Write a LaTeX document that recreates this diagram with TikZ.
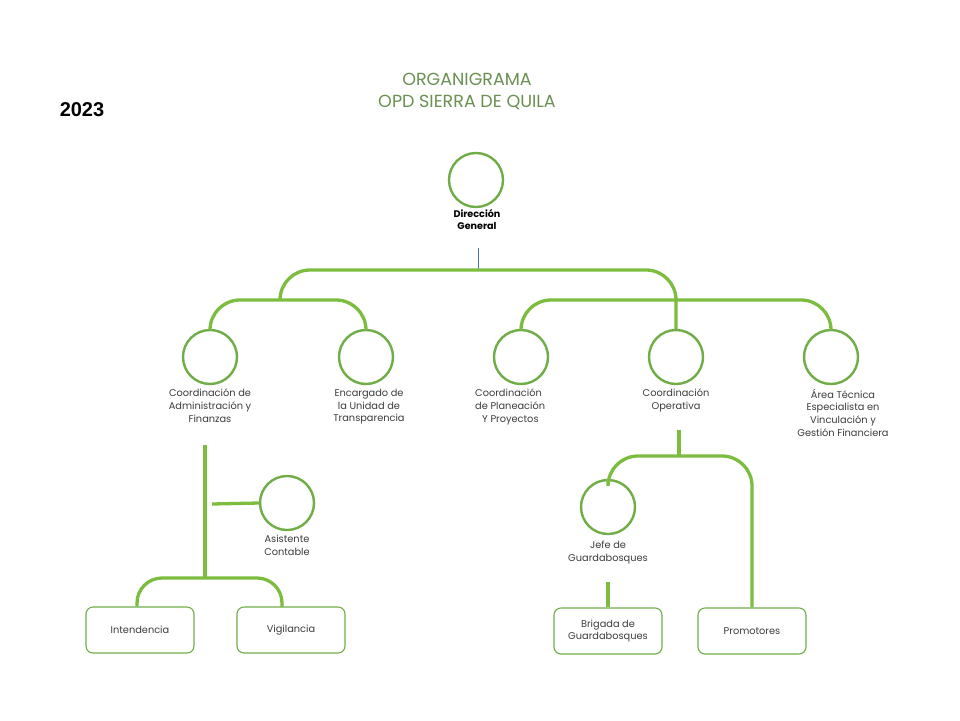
\documentclass[tikz,border=0pt]{standalone}
\usepackage{fontspec}
\setmainfont{Poppins}
\newfontfamily\arialfont{Liberation Sans}
\definecolor{conngreen}{RGB}{124,189,64}
\definecolor{shapegreen}{RGB}{112,173,71}
\definecolor{titlegreen}{RGB}{106,145,80}
\definecolor{labelgray}{RGB}{60,60,60}
\definecolor{tickblue}{RGB}{70,110,180}
\tikzset{
  conn/.style={draw=conngreen, line width=3.3pt},
  circ/.style={circle, draw=shapegreen, line width=2.4pt, minimum size=54pt, inner sep=0pt},
  box/.style={rectangle, rounded corners=7pt, draw=shapegreen, line width=1.1pt, minimum width=108pt, minimum height=46pt, inner sep=0pt, align=center, font=\fontsize{9.8}{12.5}\selectfont, text=labelgray},
  lbl/.style={align=center, font=\fontsize{9.8}{12.6}\selectfont, text=labelgray, inner sep=0pt, anchor=north},
}
\begin{document}
\begin{tikzpicture}[x=1pt,y=-1pt]
\useasboundingbox[fill=white] (0,0) rectangle (960,720);
% titles
\node[font=\fontsize{17.5}{22}\selectfont, text=titlegreen, align=center] (title) at (467,91) {ORGANIGRAMA\\OPD SIERRA DE QUILA};
\node[font=\arialfont\bfseries\fontsize{20}{24}\selectfont] (year) at (82,110) {2023};
% circles
\node[circ] (dir) at (476,180) {};
\node[lbl, font=\bfseries\fontsize{9.6}{12}\selectfont, text=black] (dirl) at (477,209) {Dirección\\General};
\node[circ] (adm) at (210,357) {};
\node[lbl] (adml) at (210,389) {Coordinación de\\Administración y\\Finanzas};
\node[circ] (tra) at (366,357) {};
\node[lbl] (tral) at (369,389) {Encargado de\\la Unidad de\\Transparencia};
\node[circ] (pla) at (521,357) {};
\node[lbl, align=left, anchor=north west] (plal) at (475,389) {Coordinación\\de Planeación\\\hspace*{7pt}Y Proyectos};
\node[circ] (ope) at (676,357) {};
\node[lbl] (opel) at (676,389) {Coordinación\\Operativa};
\node[circ] (are) at (831,357) {};
\node[lbl] (arel) at (843,389) {Área Técnica\\Especialista en\\Vinculación y\\Gestión Financiera};
\node[circ] (asi) at (287,503) {};
\node[lbl] (asil) at (287,535) {Asistente\\Contable};
\node[circ] (jef) at (608,507) {};
\node[lbl] (jefl) at (608,541) {Jefe de\\Guardabosques};
% boxes
\node[box] (int) at (140,630) {Intendencia};
\node[box] (vig) at (291,630) {\raisebox{3pt}{Vigilancia}};
\node[box] (bri) at (608,631) {Brigada de\\Guardabosques};
\node[box] (pro) at (752,631) {Promotores};
% junction coordinates
\coordinate (tickA) at (478,248);
\coordinate (jT) at (478,270);
\coordinate (jL) at (280,300);
\coordinate (jR) at (676,300);
\coordinate (opA) at (679,430);
\coordinate (jO) at (679,456);
\coordinate (jefA) at (608,582);
\coordinate (admA) at (205,445);
\coordinate (jA) at (205,578);
\coordinate (asA) at (212,504);
\coordinate (vigT) at (282,607);
% connectors
\draw[draw=tickblue, line width=0.7pt] (tickA) -- (jT);
\draw[conn, rounded corners=30pt] (jL) |- (jT) -| (ope.north);
\draw[conn, rounded corners=30pt] (adm.north) |- (jL) -| (tra.north);
\draw[conn, rounded corners=30pt] (pla.north) |- (jR) -| (are.north);
\draw[conn] (opA) -- (jO);
\draw[conn, rounded corners=30pt] (jef.north) |- (jO) -| (pro.north);
\draw[conn] (jefA) -- (bri.north);
\draw[conn] (admA) -- (jA);
\draw[conn] (asA) -- (asi.west);
\draw[conn, rounded corners=25pt] ([xshift=-3pt]int.north) |- (jA) -| (vigT);
\end{tikzpicture}
\end{document}
